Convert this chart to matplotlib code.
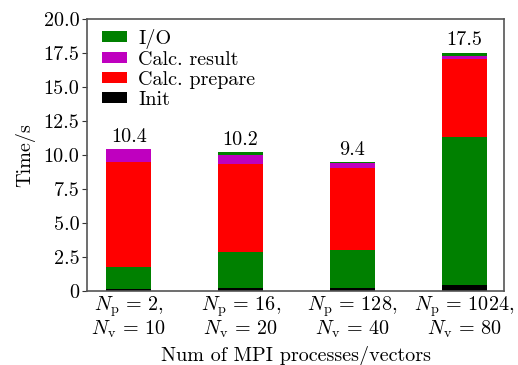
import matplotlib
matplotlib.use('Agg')
import matplotlib.pyplot as plt
import numpy as np

plt.rcParams['font.family'] = 'serif'
plt.rcParams['font.serif'] = ['cmr10']
plt.rcParams['mathtext.fontset'] = 'cm'
plt.rcParams['axes.unicode_minus'] = False

# Data (seconds)
labels = ['$N_\\mathrm{p}\\,=\\,2$,\n$N_\\mathrm{v}\\,=\\,10$',
          '$N_\\mathrm{p}\\,=\\,16$,\n$N_\\mathrm{v}\\,=\\,20$',
          '$N_\\mathrm{p}\\,=\\,128$,\n$N_\\mathrm{v}\\,=\\,40$',
          '$N_\\mathrm{p}\\,=\\,1024$,\n$N_\\mathrm{v}\\,=\\,80$']
init = [0.12, 0.2, 0.2, 0.42]
io_read = [1.6, 2.67, 2.82, 10.87]
calc_prepare = [7.78, 6.48, 6.03, 5.77]
calc_result = [0.93, 0.64, 0.35, 0.22]
io_write = [0.0, 0.22, 0.07, 0.24]
totals = ['10.4', '10.2', '9.4', '17.5']

fs = 14.5
fig, ax = plt.subplots(figsize=(5.18, 3.65), dpi=100)
fig.subplots_adjust(left=0.168, right=0.973, top=0.948, bottom=0.204)

x = np.arange(len(labels))
w = 0.405
bottom = np.zeros(len(x))
segments = [(init, 'black', 'Init'),
            (io_read, 'green', 'I/O'),
            (calc_prepare, 'red', 'Calc. prepare'),
            (calc_result, 'm', 'Calc. result'),
            (io_write, 'green', None)]
handles = {}
for vals, col, lab in segments:
    b = ax.bar(x, vals, w, bottom=bottom, color=col, linewidth=0)
    if lab:
        handles[lab] = b
    bottom += np.array(vals)

for xi, top, t in zip(x, bottom, totals):
    ax.text(xi, top + 0.25, t, ha='center', va='bottom', fontsize=fs)

order = ['I/O', 'Calc. result', 'Calc. prepare', 'Init']
ax.legend([handles[k] for k in order], order, loc='upper left', frameon=False,
          bbox_to_anchor=(0.026, 0.978), borderaxespad=0,
          fontsize=fs, handlelength=1.25, handleheight=0.45, labelspacing=0.1,
          handletextpad=0.55, borderpad=0.2)

ax.set_xlim(-0.374, 3.356)
ax.set_ylim(0, 20)
yt = np.arange(0, 20.1, 2.5)
ax.set_yticks(yt)
ax.set_yticklabels(['0'] + ['%.1f' % v for v in yt[1:]])
ax.set_xticks(x)
ax.set_xticklabels(labels, linespacing=0.95)
ax.tick_params(axis='x', length=0, labelsize=fs, pad=3)
ax.tick_params(axis='y', length=3.5, labelsize=fs, color='#333333', pad=2)
for s in ax.spines.values():
    s.set_color('#555555')
    s.set_linewidth(1.2)

ax.set_ylabel('Time/s', fontsize=fs, labelpad=6)
ax.set_xlabel('Num of MPI processes/vectors', fontsize=fs, labelpad=4)

fig.savefig('out.png', dpi=100)
